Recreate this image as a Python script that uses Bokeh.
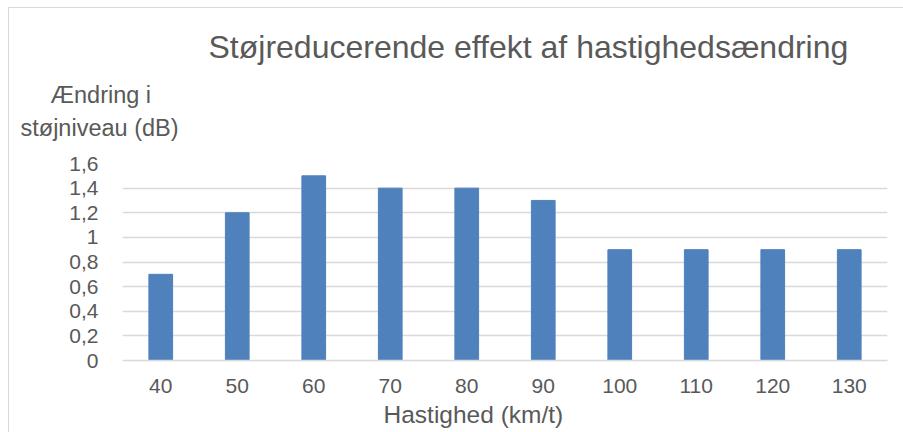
from bokeh.plotting import figure
from bokeh.models import ColumnDataSource, Range1d, FactorRange, FixedTicker, Title
from bokeh.embed import file_html
from bokeh.resources import INLINE

# --- data ---
speeds = ["40", "50", "60", "70", "80", "90", "100", "110", "120", "130"]
reduction_db = [0.7, 1.2, 1.5, 1.4, 1.4, 1.3, 0.9, 0.9, 0.9, 0.9]
y_ticks = [0, 0.2, 0.4, 0.6, 0.8, 1.0, 1.2, 1.4, 1.6]
y_tick_labels = ["0", "0,2", "0,4", "0,6", "0,8", "1", "1,2", "1,4", "1,6"]
title_text = "Støjreducerende effekt af hastighedsændring"
y_label_lines = ["Ændring i", "støjniveau (dB)"]
x_label_text = "Hastighed (km/t)"

FONT = "Liberation Sans"
TXT = "#595959"
GRID = "#D9D9D9"
BAR = "#4F81BD"

source = ColumnDataSource(data=dict(speed=speeds, value=reduction_db))

p = figure(
    width=903, height=432,
    x_range=FactorRange(*speeds),
    y_range=Range1d(0, 1.6),
    title=None,
    output_backend="svg",
    toolbar_location=None,
    min_border_left=122, min_border_right=16,
    min_border_top=163, min_border_bottom=72,
)
# light chart-area border (left and top edges) drawn behind a transparent border fill
p.styles = {
    "background-color": "white",
    "background-image": "linear-gradient(#D9D9D9,#D9D9D9), linear-gradient(#D9D9D9,#D9D9D9)",
    "background-size": "1px 430px, 900px 1px",
    "background-position": "8px 7px, 8px 7px",
    "background-repeat": "no-repeat",
}
p.outline_line_color = None
p.background_fill_color = "white"
p.border_fill_color = None

p.vbar(x="speed", top="value", width=0.31, source=source, color=BAR)

# axes
p.yaxis.ticker = FixedTicker(ticks=y_ticks)
p.yaxis.major_label_overrides = {t: l for t, l in zip(y_ticks, y_tick_labels)}
p.yaxis.axis_line_color = None
p.yaxis.major_tick_line_color = None
p.yaxis.minor_tick_line_color = None
p.yaxis.major_label_standoff = 18
p.xaxis.axis_line_color = GRID
p.xaxis.axis_line_width = 1.5
p.xaxis.major_tick_line_color = None
p.xaxis.minor_tick_line_color = None
p.xaxis.major_label_standoff = 12
for ax in (p.xaxis, p.yaxis):
    ax.major_label_text_font = FONT
    ax.major_label_text_font_size = "21px"
    ax.major_label_text_color = TXT

p.xgrid.grid_line_color = None
p.ygrid.grid_line_color = GRID
p.ygrid.grid_line_width = 1.5

def add_title(text, size, offset, standoff, side="above"):
    p.add_layout(Title(text=text, align="left", offset=offset, standoff=standoff,
                       text_font=FONT, text_font_size=size, text_font_style="normal",
                       text_color=TXT), side)

add_title(y_label_lines[1], "23.5px", -102, 45)
add_title(y_label_lines[0], "23.5px", -72, -34)
add_title(title_text, "32px", 86, 51)
add_title(x_label_text, "24.5px", 261, 7, "below")

open("out.html", "w").write(file_html(p, INLINE))
